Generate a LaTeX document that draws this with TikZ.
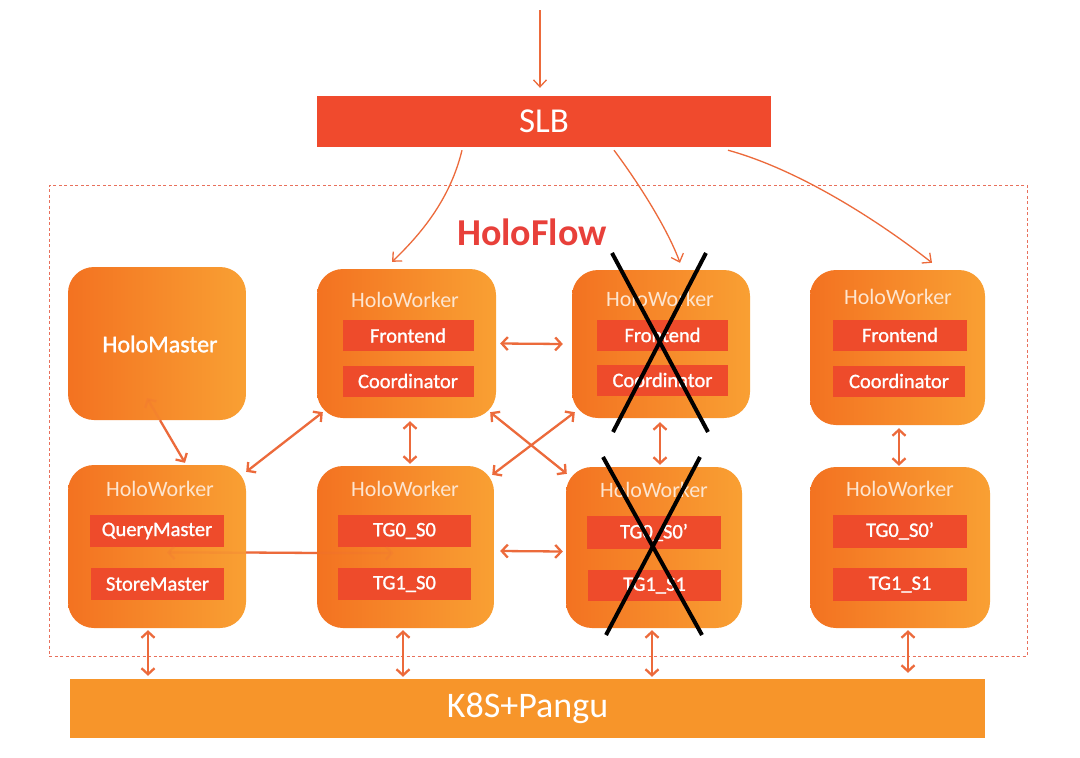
\documentclass[tikz,border=0pt]{standalone}
\usepackage{fontspec}
\setmainfont{Carlito}
\newfontfamily\semib[FakeBold=1.2]{Carlito}
\usetikzlibrary{arrows.meta,calc}
\definecolor{orgL}{HTML}{F37221}
\definecolor{orgR}{HTML}{F9A033}
\definecolor{barred}{HTML}{EE4B2B}
\definecolor{slbred}{HTML}{F04A2D}
\definecolor{k8sorg}{HTML}{F7952A}
\definecolor{arrc}{HTML}{EC6A3B}
\definecolor{framec}{HTML}{E8705C}
\definecolor{flowred}{HTML}{E8403A}
\definecolor{titlec}{HTML}{FDE5CF}
\begin{document}
\begin{tikzpicture}[x=1pt,y=-1pt,
 box/.style={rounded corners=26pt, left color=orgL, right color=orgR, draw=none, inner sep=0},
 bar/.style={fill=barred, minimum width=131pt, minimum height=31pt, inner sep=0, text=white, font=\semib\fontsize{20.5}{20.5}\selectfont},
 wtitle/.style={text=titlec, font=\fontsize{22}{22}\selectfont, inner sep=0},
 barb/.tip={Straight Barb[length=6pt,width=13pt]},
 conn/.style={draw=arrc, line width=2.3pt, barb-barb},
 slbarr/.style={draw=arrc, line width=1.3pt, -{Straight Barb[length=7pt,width=13pt]}},
 faint/.style={draw=arrc, line width=2.3pt, opacity=0.18},
 xline/.style={draw=black, line width=4pt},
 ]
\useasboundingbox (0,0) rectangle (1080,758);
\fill[white] (0,0) rectangle (1080,758);

% frame
\node[draw=framec, line width=0.9pt, dash pattern=on 3pt off 2.5pt, minimum width=978pt, minimum height=471pt, inner sep=0] (frame) at (538,420.5) {};

% SLB and K8S
\node[fill=slbred, minimum width=454pt, minimum height=51pt, inner sep=0, text=white, font=\fontsize{35}{35}\selectfont] (slb) at (544,121.5) {SLB};
\node[fill=k8sorg, minimum width=915pt, minimum height=59pt, inner sep=0, text=white, font=\fontsize{36}{36}\selectfont] (k8s) at (527.5,708.5) {K8S+Pangu};

\node[text=flowred, font=\bfseries\fontsize{38}{38}\selectfont, inner sep=0] (flow) at (532,232) {HoloFlow};

% boxes
\node[box, minimum width=178pt, minimum height=153pt] (master) at (157,343.5) {};
\node[text=white, font=\semib\fontsize{24}{24}\selectfont, inner sep=0] (mt) at (160,344) {HoloMaster};
\node[box, minimum width=179pt, minimum height=149pt] (w1) at (406.5,343.5) {};
\node[box, minimum width=178pt, minimum height=148pt] (w2) at (661,344) {};
\node[box, minimum width=175pt, minimum height=155pt] (w3) at (897.5,347.5) {};
\node[box, minimum width=178pt, minimum height=163pt] (w4) at (157,546.5) {};
\node[box, minimum width=177pt, minimum height=162pt] (w5) at (405.5,547) {};
\node[box, minimum width=176pt, minimum height=161pt] (w6) at (654,547.5) {};
\node[box, minimum width=180pt, minimum height=161pt] (w7) at (900,547.5) {};

% titles
\node[wtitle] (t1) at (405,300) {HoloWorker};
\node[wtitle] (t2) at (660,299) {HoloWorker};
\node[wtitle] (t3) at (898,297) {HoloWorker};
\node[wtitle] (t4) at (160,489) {HoloWorker};
\node[wtitle] (t5) at (405,489) {HoloWorker};
\node[wtitle] (t6) at (654,490) {HoloWorker};
\node[wtitle] (t7) at (900,489) {HoloWorker};

% bars
\node[bar] (b1a) at (408,335.5) {Frontend};
\node[bar] (b1b) at (408,381) {Coordinator};
\node[bar] (b2a) at (662.5,335) {Frontend};
\node[bar] (b2b) at (662.5,380) {Coordinator};
\node[bar, minimum width=134pt] (b3a) at (900,335) {Frontend};
\node[bar, minimum width=132pt] (b3b) at (899,381) {Coordinator};
\node[bar, minimum width=134pt, minimum height=32pt] (b4a) at (157,531) {QueryMaster};
\node[bar, minimum width=133pt, minimum height=32pt] (b4b) at (157.5,584) {StoreMaster};
\node[bar, minimum width=133pt, minimum height=32pt] (b5a) at (404.5,531) {TG0\_S0};
\node[bar, minimum width=133pt, minimum height=32pt] (b5b) at (404.5,584) {TG1\_S0};
\node[bar, minimum width=134pt, minimum height=33pt] (b6a) at (654,532.5) {TG0\_S0’};
\node[bar, minimum width=133pt, minimum height=31pt] (b6b) at (654.5,585.5) {TG1\_S1};
\node[bar, minimum width=134pt, minimum height=33pt] (b7a) at (900,531) {TG0\_S0’};
\node[bar, minimum width=134pt, minimum height=33pt] (b7b) at (900,584.5) {TG1\_S1};

% arrows partly hidden behind boxes
\draw[faint, barb-barb] ([shift={(10pt,-6pt)}]w4.center) -- ([shift={(-12pt,-6pt)}]w5.center);
\draw[draw=arrc, line width=2.3pt] ([yshift=-6pt]w4.east) -- ([yshift=-6pt]w5.west);
\draw[faint, barb-] ([shift={(-10pt,-54.5pt)}]master.center) -- ([shift={(3pt,0pt)}]master.south);
\draw[draw=arrc, line width=2.3pt, -barb] ([shift={(3pt,0pt)}]master.south) -- ([shift={(28pt,2pt)}]w4.north);

% SLB arrows
\coordinate (top) at (540,10);
\draw[slbarr] (top) -- ([xshift=-4pt,yshift=8pt]slb.north);
\draw[slbarr] ([shift={(-82pt,-3pt)}]slb.south) .. controls (450,200) and (420,235) .. ([shift={(-14.5pt,7pt)}]w1.north);
\draw[slbarr] ([shift={(70pt,-3pt)}]slb.south) .. controls (640,185) and (668,230) .. ([shift={(19pt,7pt)}]w2.north);
\draw[slbarr] ([shift={(184pt,-3pt)}]slb.south) .. controls (800,170) and (880,222) .. ([shift={(34.5pt,7pt)}]w3.north);

% connectors
\draw[conn] ([xshift=4pt]w1.east) -- ([xshift=-9pt]w2.west);
\draw[conn] ([shift={(6pt,-4pt)}]w5.east) -- ([shift={(-3pt,-4pt)}]w6.west);
\draw[conn] ([shift={(3.5pt,-3pt)}]w1.south) -- ([shift={(3.5pt,2pt)}]w1.south |- w5.north);
\draw[conn] ([shift={(-1pt,-4pt)}]w2.south) -- ([shift={(-1pt,2pt)}]w2.south |- w6.north);
\draw[conn] ([shift={(1.5pt,-3pt)}]w3.south) -- ([shift={(1.5pt,1pt)}]w3.south |- w7.north);
\draw[conn] ([yshift=-7pt]w4.north east) -- ([shift={(6pt,6pt)}]w1.south west);
\draw[conn] ([shift={(-6pt,6pt)}]w1.south east) -- ([shift={(1pt,-7pt)}]w6.north west);
\draw[conn] ([shift={(-2pt,-9pt)}]w5.north east) -- ([shift={(3pt,6pt)}]w2.south west);

% down to K8S
\draw[conn] ([shift={(-9pt,-2pt)}]w4.south) -- ([shift={(-9pt,3pt)}]w4.south |- k8s.north);
\draw[conn] ([shift={(-2.5pt,-2pt)}]w5.south) -- ([shift={(-2.5pt,2pt)}]w5.south |- k8s.north);
\draw[conn] ([shift={(-2pt,-2pt)}]w6.south) -- ([shift={(-2pt,2pt)}]w6.south |- k8s.north);
\draw[conn] ([shift={(8pt,-2pt)}]w7.south) -- ([shift={(8pt,6pt)}]w7.south |- k8s.north);

% crosses
\draw[xline] ([shift={(-49pt,91pt)}]w2.center) -- ([shift={(47pt,-88pt)}]w2.center);
\draw[xline] ([shift={(45pt,91pt)}]w2.center) -- ([shift={(-48pt,-88pt)}]w2.center);
\draw[xline] ([shift={(-51pt,90.5pt)}]w6.center) -- ([shift={(48pt,-87.5pt)}]w6.center);
\draw[xline] ([shift={(46pt,90.5pt)}]w6.center) -- ([shift={(-48pt,-87.5pt)}]w6.center);
\end{tikzpicture}
\end{document}
